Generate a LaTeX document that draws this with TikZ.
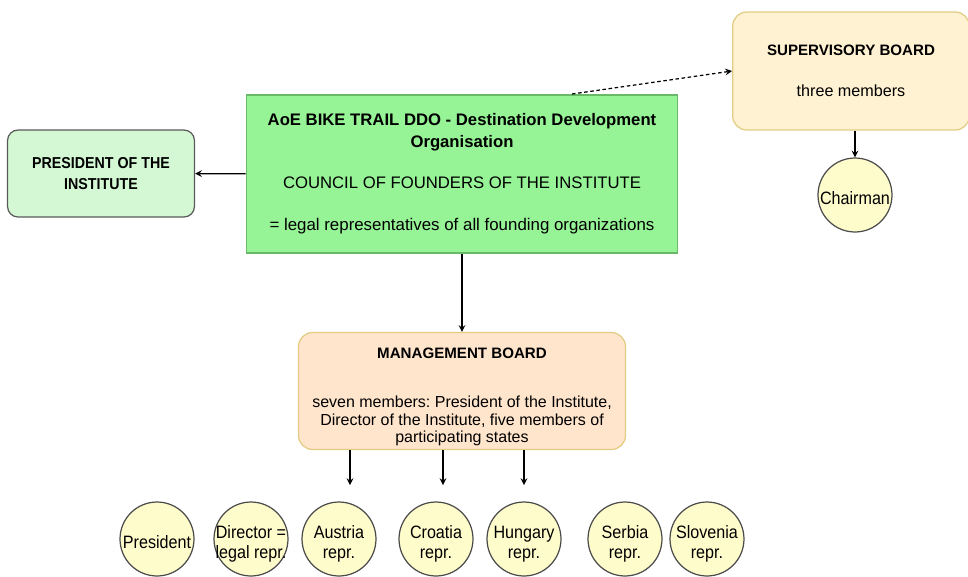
\documentclass[tikz,border=0pt]{standalone}
\usepackage{fontspec}
\setmainfont{Liberation Sans}
\newfontfamily\narrowfont{Liberation Sans}[FakeStretch=0.9]
\frenchspacing
\usepackage{tikz}
\definecolor{council}{RGB}{150,243,150}
\definecolor{councilline}{RGB}{105,185,105}
\definecolor{president}{RGB}{212,248,212}
\definecolor{supervisory}{RGB}{255,242,210}
\definecolor{management}{RGB}{255,229,204}
\definecolor{goldline}{RGB}{226,204,130}
\definecolor{member}{RGB}{255,252,204}
\usetikzlibrary{positioning,arrows}
\newcommand*{\mtext}[1]{\raisebox{-5.5pt}[0pt][0pt]{\makebox[0pt]{\begin{tabular}{@{}c@{}}#1\end{tabular}}}}
\tikzset{%
  box/.style={draw, rectangle, align=flush center, line width=0.7pt},
  councilbox/.style={box, fill=council, draw=councilline, text width=8.4cm, minimum width=8.6cm, minimum height=3.16cm},% founders
  presbox/.style={box, rounded corners=6pt, fill=president, draw=black!65, text width=3.5cm, minimum width=3.74cm, minimum height=1.74cm},% president
  boardbox/.style={box, rounded corners=8pt, draw=goldline},% boards
  member/.style={draw=black!70, circle, fill=member, minimum size=1.48cm, inner sep=0pt, line width=0.7pt, font=\narrowfont\fontsize{10.2}{11.6}\selectfont},% members
  link/.style={line width=0.7pt, ->, >=stealth}
}

\begin{document}
\begin{tikzpicture}[x=0.02cm, y=-0.02cm]
\useasboundingbox (0,0) rectangle (968,576);
\node[councilbox] (council) at (462,174) {
{\fontsize{9.5}{11.8}\selectfont\bfseries AoE BIKE TRAIL DDO - Destination Development\\Organisation}\\[11.6pt]
{\fontsize{9.5}{12}\selectfont COUNCIL OF FOUNDERS OF THE INSTITUTE}\\[12pt]
{\fontsize{9.6}{11}\selectfont = legal representatives of all founding organizations}
};
\node[presbox] (president) at (101,173.5) {\narrowfont\fontsize{9}{11}\selectfont\bfseries PRESIDENT OF THE\\INSTITUTE};
\node[boardbox, fill=supervisory, text width=4.5cm, minimum width=4.7cm, minimum height=2.36cm] (supervisory) at (851,71) {
{\fontsize{8.6}{10}\selectfont\bfseries SUPERVISORY BOARD}\\[11pt]
{\fontsize{9.2}{11}\selectfont three members}
};
\node[member] (chairman) at (855,195) {\mtext{Chairman}};
\node[boardbox, fill=management, text width=6.3cm, inner ysep=0pt, minimum width=6.54cm, minimum height=2.34cm,
  font=\fontsize{9.1}{10.2}\selectfont] (management) at (462,391) {
{\rule{0pt}{12.8pt}\fontsize{8.6}{10}\selectfont\bfseries MANAGEMENT BOARD}\\[17.6pt]
seven members: President of the Institute,\\Director of the Institute, five members of\\participating states
};

\node[member] (pres) at (157,539) {\mtext{President}};
\node[member] (dir) at (251,539) {\mtext{Director =\\legal repr.}};
\node[member] (aut) at (339,539) {\mtext{Austria\\repr.}};
\node[member] (cro) at (436,539) {\mtext{Croatia\\repr.}};
\node[member] (hun) at (524,539) {\mtext{Hungary\\repr.}};
\node[member] (srb) at (625,539) {\mtext{Serbia\\repr.}};
\node[member] (slo) at (707,539) {\mtext{Slovenia\\repr.}};

\coordinate (dots) at (572,94);
\coordinate (t1) at (350,485);
\coordinate (t2) at (443,485);
\coordinate (t3) at (524,485);

\draw[link] (council) edge (president);
\draw[link, dash pattern=on 2pt off 1.5pt] (dots) -- (supervisory.west);
\draw[link] (council) edge (management);
\draw[link] (supervisory.south -| chairman.north) -- (chairman.north);
\draw[link] (management.south -| t1) -- (t1);
\draw[link] (management.south -| t2) -- (t2);
\draw[link] (management.south -| t3) -- (t3);
\end{tikzpicture}
\end{document}
